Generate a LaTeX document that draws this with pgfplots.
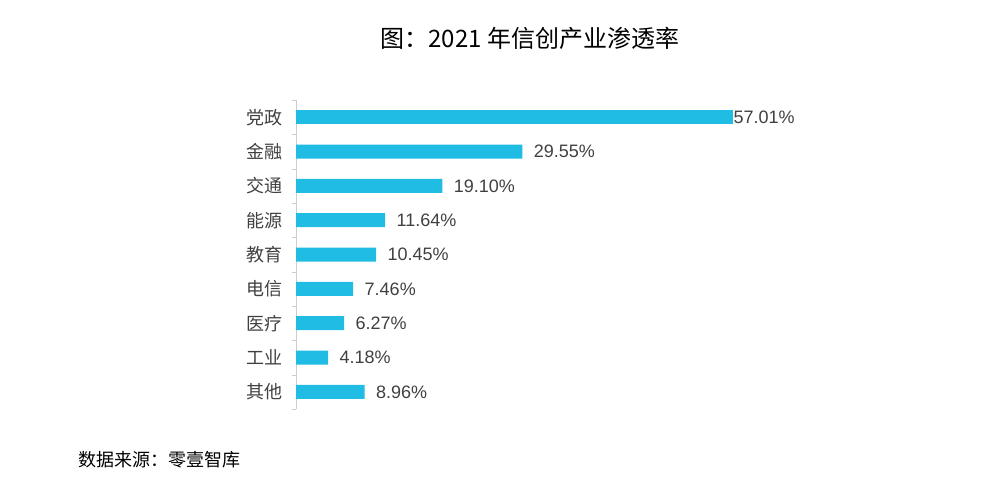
\documentclass[border=0pt]{standalone}
\usepackage{pgfplots}
\pgfplotsset{compat=1.18}
\usepackage{fontspec}
\setmainfont{Liberation Sans}
\newfontfamily\cjk{Noto Sans CJK SC}
\definecolor{barblue}{RGB}{32,188,228}
\definecolor{txt}{RGB}{64,64,64}
\definecolor{axgray}{RGB}{205,205,205}
\begin{document}
\begin{tikzpicture}
\useasboundingbox (0,0) rectangle (739.5pt,362.25pt);
\node[font=\cjk\fontsize{18}{20}\selectfont, text=black] at (397.5pt,333.75pt) {图：2021 年信创产业渗透率};
\node[anchor=west, inner sep=0pt, font=\cjk\fontsize{13.5}{16}\selectfont, text=black] at (58.5pt,17.25pt) {数据来源：零壹智库};
\begin{axis}[
 at={(222pt,55.5pt)}, anchor=south west, scale only axis,
 width=344.6pt, height=231.75pt,
 xmin=0, xmax=60, ymin=-0.5, ymax=8.5, y dir=reverse,
 axis x line=none, axis y line*=left, axis line style={axgray, -},
 ytick={0,...,8}, yticklabels={党政,金融,交通,能源,教育,电信,医疗,工业,其他},
 minor ytick={-0.5,0.5,...,8.5}, major tick length=0pt, minor tick length=3pt,
 tick align=outside, minor tick style={axgray},
 yticklabel style={font=\cjk\fontsize{13.5}{16}\selectfont, text=txt, inner sep=0pt, xshift=-10pt},
 /pgf/number format/assume math mode=true,
 clip=false,
 xbar, bar width=10.5pt,
 nodes near coords={\pgfmathprintnumber[fixed,fixed zerofill,precision=2]{\pgfplotspointmeta}\%},
 point meta=x,
 every node near coord/.append style={font=\fontsize{13.5}{16}\selectfont, text=txt, anchor=west, inner sep=0pt},
]
\addplot[fill=barblue, draw=none, bar shift=0pt, nodes near coords style={xshift=0.5pt}] coordinates {(57.01,0)};
\addplot[fill=barblue, draw=none, bar shift=0pt, nodes near coords style={xshift=8.5pt}] coordinates {
(29.55,1) (19.10,2) (11.64,3) (10.45,4) (7.46,5) (6.27,6) (4.18,7) (8.96,8)};
\end{axis}
\end{tikzpicture}
\end{document}
